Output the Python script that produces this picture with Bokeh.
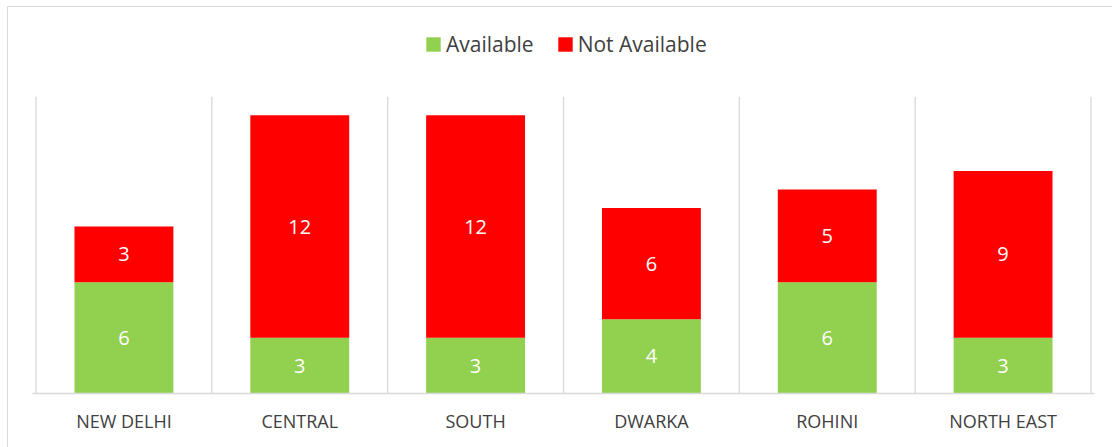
from bokeh.plotting import figure
from bokeh.models import (ColumnDataSource, FactorRange, Range1d, Legend, LegendItem)
from bokeh.core.properties import value
from bokeh.embed import file_html
from bokeh.resources import INLINE

categories = ["NEW DELHI", "CENTRAL", "SOUTH", "DWARKA", "ROHINI", "NORTH EAST"]
available = [6, 3, 3, 4, 6, 3]
not_available = [3, 12, 12, 6, 5, 9]
series_names = ["Available", "Not Available"]
series_colors = ["#92D050", "#FF0000"]
y_axis_max = 16

FONT = "Open Sans"

src = ColumnDataSource(dict(
    cat=categories,
    Available=available,
    NotAvailable=not_available,
    y_av=[a / 2 for a in available],
    y_na=[a + n / 2 for a, n in zip(available, not_available)],
    lab_av=[str(a) for a in available],
    lab_na=[str(n) for n in not_available],
))

# plot area spans the legend band too; bars occupy the lower 296 px of the 382 px frame
frame_top_extra = 382 / 296

p = figure(width=1105, height=441, output_backend="svg", toolbar_location=None,
           x_range=FactorRange(factors=categories, range_padding=0.02,
                               range_padding_units="absolute"),
           y_range=Range1d(0, y_axis_max * frame_top_extra),
           min_border_left=24, min_border_right=19, min_border_top=3, min_border_bottom=55,
           background_fill_color="white", border_fill_color="white",
           outline_line_color=None)
p.margin = (6, 0, 0, 7)
p.styles = {"border-top": "1px solid #D9D9D9", "border-left": "1px solid #D9D9D9",
            "box-sizing": "border-box"}

# category separators (vertical gridlines between categories, up to the axis max)
n = len(categories)
p.segment(x0=list(range(n + 1)), y0=[0] * (n + 1), x1=list(range(n + 1)),
          y1=[y_axis_max] * (n + 1), line_color="#D9D9D9", line_width=1.3)

rs = p.vbar_stack(["Available", "NotAvailable"], x="cat", width=0.5625, source=src,
                  color=series_colors, line_color=None)

for ycol, lcol in (("y_av", "lab_av"), ("y_na", "lab_na")):
    p.text(x="cat", y=ycol, text=lcol, source=src, text_color="white",
           text_font=value(FONT), text_font_size="20px",
           text_align="center", text_baseline="middle")

p.yaxis.visible = False
p.ygrid.visible = False
p.xgrid.visible = False

ax = p.xaxis[0]
ax.axis_line_color = "#D9D9D9"
ax.axis_line_width = 1.5
ax.major_tick_line_color = None
ax.minor_tick_line_color = None
ax.major_label_text_font = FONT
ax.major_label_text_font_size = "18px"
ax.major_label_text_color = "#404040"
ax.major_label_standoff = 9

legend = Legend(items=[LegendItem(label=nm, renderers=[r]) for nm, r in zip(series_names, rs)],
                orientation="horizontal", location=(392, 335),
                glyph_width=18, glyph_height=18, label_standoff=4, spacing=22,
                padding=0, margin=0, border_line_color=None, background_fill_alpha=0,
                label_text_font=FONT, label_text_font_size="21px",
                label_text_color="#404040")
p.add_layout(legend, "center")

open("out.html", "w").write(file_html(p, INLINE))
